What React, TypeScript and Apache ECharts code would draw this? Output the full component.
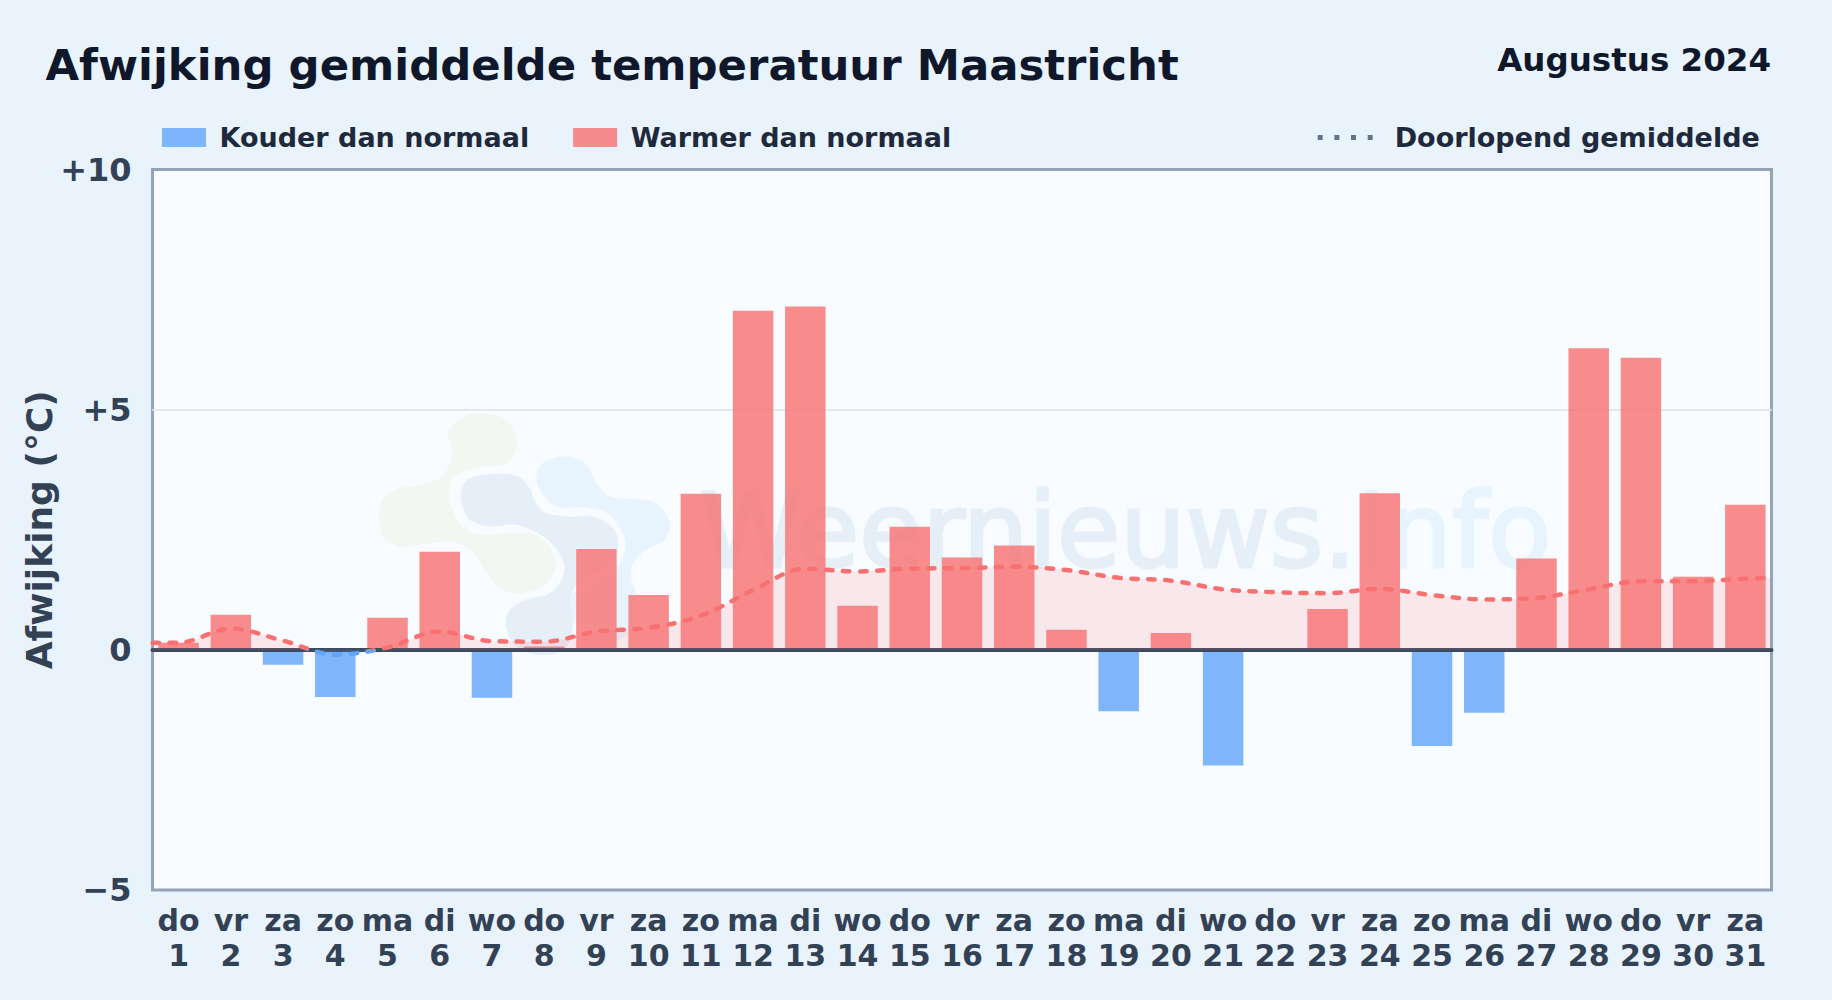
import React, { useEffect, useRef } from "react";
import * as echarts from "echarts";

const TITLE = "Afwijking gemiddelde temperatuur Maastricht";
const PERIOD = "Augustus 2024";
const FONT = '"DejaVu Sans", sans-serif';

const weekdays = ["do","vr","za","zo","ma","di","wo","do","vr","za","zo","ma","di","wo","do","vr","za","zo","ma","di","wo","do","vr","za","zo","ma","di","wo","do","vr","za"];
const days = [1,2,3,4,5,6,7,8,9,10,11,12,13,14,15,16,17,18,19,20,21,22,23,24,25,26,27,28,29,30,31];
const deviations = [0.15,0.73,-0.31,-0.98,0.67,2.04,-1.0,0.07,2.1,1.14,3.25,7.06,7.15,0.92,2.56,1.92,2.17,0.42,-1.28,0.35,-2.41,0,0.85,3.26,-2.0,-1.31,1.9,6.28,6.08,1.52,3.02];
const runningMean = [0.15,0.44,0.19,-0.1,0.05,0.38,0.18,0.17,0.38,0.46,0.71,1.24,1.69,1.63,1.69,1.7,1.73,1.66,1.5,1.44,1.26,1.2,1.18,1.27,1.14,1.05,1.08,1.26,1.43,1.43,1.48];
const meanAtLeftEdge = 0.15;
const meanAtRightEdge = 1.5;

const BLUE = "rgba(96,165,250,0.8)";
const RED = "rgba(248,113,113,0.8)";

const greenBlob = [[235,95],[285,48],[345,42],[410,60],[442,125],[425,175],[395,195],[320,203],[250,235],[238,295],[270,370],[330,405],[420,400],[500,405],[550,460],[555,510],[520,560],[450,580],[390,565],[350,520],[310,460],[250,425],[170,432],[90,440],[40,410],[28,350],[40,295],[90,265],[150,255],[210,235],[240,190],[245,140]];
const slateBlob = [[275,270],[300,235],[370,222],[440,228],[480,265],[495,305],[530,340],[600,350],[670,350],[730,385],[745,430],[730,480],[680,520],[625,550],[605,590],[612,660],[590,740],[520,767],[440,740],[408,680],[420,630],[470,600],[540,580],[580,530],[575,470],[520,410],[440,375],[360,380],[300,360],[275,310]];
const skyBlob = [[500,225],[525,185],[590,170],[650,195],[680,250],[720,290],[790,298],[860,310],[900,370],[885,420],[830,450],[790,490],[785,540],[800,590],[790,650],[765,705],[700,745],[640,720],[615,660],[600,600],[625,570],[680,540],[750,490],[765,420],[720,345],[640,322],[560,320],[510,270]];

function smoothClosed(pts: number[][]) {
  const n = pts.length;
  let d = `M${pts[0][0]} ${pts[0][1]}`;
  for (let i = 0; i < n; i++) {
    const p0 = pts[(i - 1 + n) % n], p1 = pts[i], p2 = pts[(i + 1) % n], p3 = pts[(i + 2) % n];
    const c1x = p1[0] + (p2[0] - p0[0]) / 6, c1y = p1[1] + (p2[1] - p0[1]) / 6;
    const c2x = p2[0] - (p3[0] - p1[0]) / 6, c2y = p2[1] - (p3[1] - p1[1]) / 6;
    d += `C${c1x} ${c1y} ${c2x} ${c2y} ${p2[0]} ${p2[1]}`;
  }
  return d + "Z";
}

echarts.graphic.registerShape("wmGreen", echarts.graphic.extendPath(smoothClosed(greenBlob), {}));
echarts.graphic.registerShape("wmSlate", echarts.graphic.extendPath(smoothClosed(slateBlob), {}));
echarts.graphic.registerShape("wmSky", echarts.graphic.extendPath(smoothClosed(skyBlob), {}));

export default function App() {
  const ref = useRef<HTMLDivElement>(null);
  useEffect(() => {
    document.body.style.margin = "0";
    document.body.style.background = "#e9f3fc";
    const chart = echarts.init(ref.current!, undefined, { renderer: "svg" });
    const wmShape = (type: string, fill: string) => ({ type, x: 370, y: 400, scaleX: 1 / 3, scaleY: 1 / 3, z: 1, silent: true, style: { fill } });
    chart.setOption({
      animation: false,
      backgroundColor: "#e9f3fc",
      textStyle: { fontFamily: FONT },
      title: [
        { text: TITLE, left: 40.5, top: 38, textStyle: { fontFamily: FONT, fontSize: 43.4, fontWeight: "bold", color: "#0f172a" } },
        { text: PERIOD, right: 56, top: 38, textStyle: { fontFamily: FONT, fontSize: 32.5, fontWeight: "bold", color: "#0f172a" } },
      ],
      legend: [
        {
          left: 157, top: 119, itemWidth: 44, itemHeight: 19, itemGap: 44, icon: "rect",
          data: ["Kouder dan normaal", "Warmer dan normaal"],
          textStyle: { fontFamily: FONT, fontSize: 27, fontWeight: "bold", color: "#1e293b", padding: [0, 0, 0, 8.5] },
        },
        {
          left: 1312.7, top: 119, itemWidth: 55, itemHeight: 5,
          data: [{ name: "Doorlopend gemiddelde", icon: "path://M0 0h5v5H0zM16.7 0h5v5h-5zM33.3 0h5v5h-5zM50 0h5v5h-5z" }],
          itemStyle: { color: "#64748b" }, lineStyle: { width: 0 },
          textStyle: { fontFamily: FONT, fontSize: 27, fontWeight: "bold", color: "#1e293b", padding: [0, 0, 0, 17] },
        },
      ],
      grid: { left: 152.5, top: 169.5, width: 1619, height: 720.5, show: true, backgroundColor: "#f8fbff", borderColor: "#94a3b8", borderWidth: 3 },
      xAxis: [
        {
          type: "category", position: "bottom",
          data: days.map((d, i) => `${weekdays[i]}\n${d}`),
          axisLine: { show: false, onZero: false }, axisTick: { show: false },
          axisLabel: { interval: 0, margin: 13, fontFamily: FONT, fontSize: 30, fontWeight: "bold", color: "#334155", lineHeight: 35 },
        },
        {
          type: "value", position: "bottom", min: 0.5, max: 31.5, z: 5,
          axisLine: { show: true, onZero: true, lineStyle: { color: "#3c4a60", width: 4 } },
          axisTick: { show: false }, axisLabel: { show: false }, splitLine: { show: false },
        },
      ],
      yAxis: {
        type: "value", min: -5, max: 10, interval: 5,
        name: "Afwijking (°C)", nameLocation: "middle", nameGap: 95, nameMoveOverlap: false,
        nameTextStyle: { fontFamily: FONT, fontSize: 36, fontWeight: "bold", color: "#334155" },
        axisLine: { show: false }, axisTick: { show: false },
        axisLabel: {
          margin: 21, fontFamily: FONT, fontSize: 32, fontWeight: "bold", color: "#334155",
          formatter: (v: number) => (v > 0 ? `+${v}` : v < 0 ? `\u2212${-v}` : "0"),
        },
        splitLine: { showMinLine: false, showMaxLine: false, lineStyle: { color: "#e2e8f0", width: 2 } },
      },
      visualMap: {
        show: false, type: "piecewise", seriesIndex: 2, dimension: 1,
        pieces: [{ gte: -5, lt: 0, color: "#60a5fa" }, { gte: 0, lte: 10, color: "#f87171" }],
      },
      series: [
        {
          name: "Kouder dan normaal", type: "bar", barWidth: "77.5%", barGap: "-100%", z: 2,
          xAxisIndex: 0, itemStyle: { color: BLUE },
          data: deviations.map((v) => (v < 0 ? v : null)),
        },
        {
          name: "Warmer dan normaal", type: "bar", barWidth: "77.5%", barGap: "-100%", z: 2,
          xAxisIndex: 0, itemStyle: { color: RED },
          data: deviations.map((v) => (v > 0 ? v : null)),
        },
        {
          name: "Doorlopend gemiddelde", type: "line", xAxisIndex: 1, z: 6,
          smooth: 0.35, symbol: "none",
          lineStyle: { width: 4.5, type: [6.5, 10.5], cap: "round" },
          areaStyle: { opacity: 0.14 },
          data: [[0.5, meanAtLeftEdge], ...runningMean.map((v, i) => [days[i], v]), [31.5, meanAtRightEdge]],
        },
      ],
      graphic: [
        wmShape("wmGreen", "#f2f8f1"),
        wmShape("wmSlate", "#e6eff8"),
        wmShape("wmSky", "#e8f4fd"),
        {
          type: "text", x: 700, y: 479, z: 1, silent: true,
          style: {
            fontFamily: FONT, fontSize: 103, fill: "#e6eff8",
            rich: {
              a: { fontFamily: FONT, fontSize: 103, fill: "#e6eff8", stroke: "#e6eff8", lineWidth: 3 },
              b: { fontFamily: FONT, fontSize: 103, fill: "#e8f4fd", stroke: "#e8f4fd", lineWidth: 3 },
            },
            text: "{a|Weernieuws.}{b|Info}",
          },
        },
      ],
    });
    return () => chart.dispose();
  }, []);
  return <div ref={ref} style={{ width: 1832, height: 1000 }} />;
}
